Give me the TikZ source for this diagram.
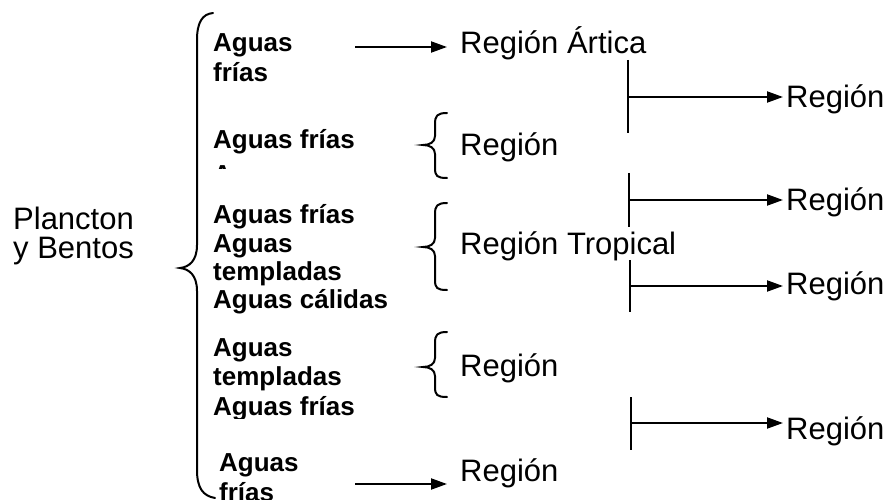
\documentclass[tikz,border=0pt]{standalone}
\usepackage{fontspec}
\setmainfont{Liberation Sans}
\usetikzlibrary{arrows.meta}
\begin{document}
\begin{tikzpicture}[x=1pt,y=-1pt,
  reg/.style={font=\fontsize{31}{33}\selectfont, anchor=base west, inner sep=0pt},
  agua/.style={font=\fontsize{26}{29}\selectfont\bfseries, anchor=base west, inner sep=0pt},
  ln/.style={line width=2pt},
  arr/.style={line width=2pt, -{Triangle[length=16pt,width=11pt]}},
  bracestyle/.style={line width=2pt, line cap=round}]
\useasboundingbox (0,0) rectangle (889,500);

% left label
\node[reg] (pl1) at (13,229) {Plancton};
\node[reg] (pl2) at (13,258) {y Bentos};

% big brace
\draw[bracestyle] (213,13) .. controls (202,14) and (197,23) .. (197,40) -- (197,245)
  .. controls (197,261) and (189,267) .. (180,268)
  .. controls (189,269) and (197,275) .. (197,291) -- (197,470)
  .. controls (197,488) and (203,496) .. (215,498);

% block 1
\node[agua] (a1) at (213,52) {Aguas};
\node[agua] (a1b) at (213,82) {frías};
% block 2
\node[agua] (a2) at (213,149) {Aguas frías};
\begin{scope}
  \clip (200,150) rectangle (320,169);
  \node[agua] (a2b) at (213,183) {Aguas};
\end{scope}
% block 3
\node[agua] (a3) at (213,223) {Aguas frías};
\node[agua] (a3b) at (213,252) {Aguas};
\node[agua] (a3c) at (213,280) {templadas};
\node[agua] (a3d) at (213,308) {Aguas cálidas};
% block 4
\node[agua] (a4) at (213,356) {Aguas};
\node[agua] (a4b) at (213,385) {templadas};
\begin{scope}
  \clip (200,390) rectangle (400,418);
  \node[agua] (a4c) at (213,415) {Aguas frías};
\end{scope}
% block 5
\node[agua] (a5) at (219,471) {Aguas};
\node[agua] (a5b) at (219,501) {frías};

% region texts (middle column)
\node[reg] (rA) at (460,54) {Región Ártica};
\node[reg] (r2) at (460,156) {Región};
\node[reg] (rT) at (460,254) {Región Tropical};
\node[reg] (r4) at (460,376) {Región};
\node[reg] (r5) at (460,481) {Región};

% region texts (right column)
\node[reg] (q1) at (786,108) {Región};
\node[reg] (q2) at (786,211) {Región};
\node[reg] (q3) at (786,294) {Región};
\node[reg] (q4) at (786,439) {Región};

% arrows from left
\coordinate (s1) at (355,47);
\coordinate (s5) at (355,484);
\draw[arr, shorten >=13pt] (s1) -- (s1 -| rA.west);
\draw[arr, shorten >=13pt] (s5) -- (s5 -| r5.west);

% small braces
\draw[bracestyle] (447,113) .. controls (437,113) and (435,116) .. (435,124) -- (435,136)
  .. controls (435,142) and (430,145) .. (423,145)
  .. controls (430,145) and (435,148) .. (435,154) -- (435,168)
  .. controls (435,176) and (437,178) .. (447,178);
\draw[bracestyle] (447,203) .. controls (437,203) and (435,206) .. (435,214) -- (435,238)
  .. controls (435,244) and (430,247) .. (423,247)
  .. controls (430,247) and (435,250) .. (435,256) -- (435,280)
  .. controls (435,288) and (437,290) .. (447,290);
\draw[bracestyle] (447,332) .. controls (437,332) and (435,335) .. (435,343) -- (435,358)
  .. controls (435,364) and (430,367) .. (423,367)
  .. controls (430,367) and (435,370) .. (435,376) -- (435,387)
  .. controls (435,395) and (437,397) .. (447,397);

% right branches
\coordinate (v1t) at (628,60);  \coordinate (v1b) at (628,133); \coordinate (h1) at (628,97);
\coordinate (v2t) at (629,173); \coordinate (v2b) at (629,227); \coordinate (h2) at (629,200);
\coordinate (v3t) at (630,260); \coordinate (v3b) at (630,312); \coordinate (h3) at (630,286);
\coordinate (v4t) at (631,397); \coordinate (v4b) at (631,450); \coordinate (h4) at (631,423);
\draw[ln] (v1t) -- (v1b);
\draw[ln] (v2t) -- (v2b);
\draw[ln] (v3t) -- (v3b);
\draw[ln] (v4t) -- (v4b);
\draw[arr, shorten >=3pt] (h1) -- (h1 -| q1.west);
\draw[arr, shorten >=3pt] (h2) -- (h2 -| q2.west);
\draw[arr, shorten >=3pt] (h3) -- (h3 -| q3.west);
\draw[arr, shorten >=3pt] (h4) -- (h4 -| q4.west);
\end{tikzpicture}
\end{document}
